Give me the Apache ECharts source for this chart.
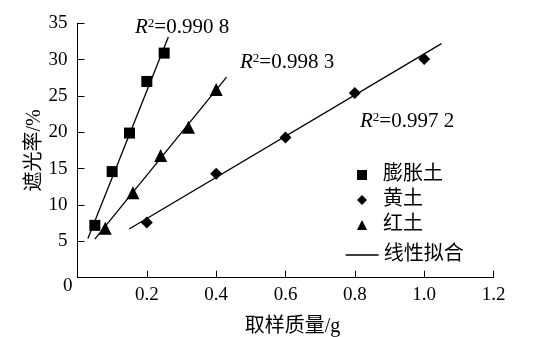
<!DOCTYPE html>
<html><head><meta charset="utf-8">
<script src="https://cdn.jsdelivr.net/npm/echarts@6/dist/echarts.min.js"></script>
<style>html,body{margin:0;padding:0;background:#fff}#c{width:547px;height:337px}</style>
</head><body><div id="c"></div>
<script>
const FONT = "'Liberation Serif','Noto Sans CJK SC',serif";
// 膨胀土
const swellX = [0.05, 0.10, 0.15, 0.20, 0.25];
const swellY = [7.2, 14.6, 19.9, 27.0, 30.9];
// 黄土
const loessX = [0.2, 0.4, 0.6, 0.8, 1.0];
const loessY = [7.6, 14.3, 19.3, 25.4, 30.1];
// 红土
const redX = [0.08, 0.16, 0.24, 0.32, 0.40];
const redY = [6.8, 11.7, 16.8, 20.7, 25.9];
// fitted line endpoints
const swellFitX = [0.03, 0.262];
const swellFitY = [5.4, 33.1];
const redFitX = [0.05, 0.43];
const redFitY = [5.3, 27.6];
const loessFitX = [0.149, 1.05];
const loessFitY = [6.7, 32.2];
const r2Labels = ['0.990 8', '0.998 3', '0.997 2'];
const seriesNames = ['膨胀土', '黄土', '红土', '线性拟合'];
const xTicks = [0, 0.2, 0.4, 0.6, 0.8, 1.0, 1.2];
const yTicks = [0, 5, 10, 15, 20, 25, 30, 35];

const zip = (a, b) => a.map((v, i) => [v, b[i]]);
const chart = echarts.init(document.getElementById('c'));
const lineStyle = { color: '#000', width: 1.3 };
const r2Text = (v) => '{r|R}{s|2}{t|=' + v + '}';
const r2Rich = {
  r: { fontFamily: FONT, fontStyle: 'italic', fontSize: 21, fill: '#000', color: '#000' },
  s: { fontFamily: FONT, fontSize: 13, verticalAlign: 'top', fill: '#000', color: '#000', padding: [0, 0, 8, 0] },
  t: { fontFamily: FONT, fontSize: 21, fill: '#000', color: '#000' }
};
const mk = { color: '#000', opacity: 1 };
chart.setOption({
  animation: false,
  backgroundColor: '#fff',
  grid: { left: 77.5, right: 53.5, top: 23.3, bottom: 59.3, outerBoundsMode: 'none', containLabel: false },
  xAxis: {
    type: 'value', min: xTicks[0], max: xTicks[xTicks.length - 1], interval: 0.2,
    name: '取样质量/g', nameLocation: 'middle', nameGap: 39, nameMoveOverlap: false,
    nameTextStyle: { fontFamily: FONT, fontSize: 20, color: '#000', padding: [0, 0, 0, 14] },
    axisLine: { lineStyle: { color: '#000', width: 1 } },
    axisTick: { inside: true, length: 7, lineStyle: { color: '#000' } },
    axisLabel: { margin: 8, fontFamily: FONT, fontSize: 19, color: '#000',
      formatter: v => v === 0 ? '' : v.toFixed(1) },
    splitLine: { show: false }
  },
  yAxis: {
    type: 'value', min: yTicks[0], max: yTicks[yTicks.length - 1], interval: 5,
    name: '遮光率/%', nameLocation: 'middle', nameGap: 33, nameMoveOverlap: false,
    nameTextStyle: { fontFamily: FONT, fontSize: 20, color: '#000' },
    axisLine: { show: true, lineStyle: { color: '#000', width: 1 } },
    axisTick: { show: true, inside: true, length: 7, lineStyle: { color: '#000' } },
    axisLabel: { margin: 10, fontFamily: FONT, fontSize: 19, color: '#000',
      formatter: v => v === 0 ? '' : String(v) },
    splitLine: { show: false }
  },
  legend: [
    { data: seriesNames.slice(0, 3), orient: 'vertical', left: 352, top: 160,
      itemWidth: 10, itemHeight: 10, itemGap: 5,
      textStyle: { fontFamily: FONT, fontSize: 20, color: '#000', padding: [0, 0, 0, 11] } },
    { data: [seriesNames[3]], orient: 'vertical', left: 340, top: 240,
      itemWidth: 33, itemHeight: 14,
      itemStyle: { opacity: 0 }, lineStyle: { width: 1.3, color: '#000' },
      textStyle: { fontFamily: FONT, fontSize: 20, color: '#000' } }
  ],
  graphic: [
    { type: 'text', left: 63, top: 277, style: { text: '0', font: '19px ' + FONT, fill: '#000' } },
    { type: 'text', left: 135, top: 17, style: { text: r2Text(r2Labels[0]), rich: r2Rich } },
    { type: 'text', left: 240, top: 52, style: { text: r2Text(r2Labels[1]), rich: r2Rich } },
    { type: 'text', left: 360, top: 111, style: { text: r2Text(r2Labels[2]), rich: r2Rich } }
  ],
  series: [
    { name: seriesNames[0], type: 'scatter', symbol: 'rect', symbolSize: 11,
      itemStyle: mk, data: zip(swellX, swellY), z: 3 },
    { name: seriesNames[1], type: 'scatter', symbol: 'diamond', symbolSize: 12,
      itemStyle: mk, data: zip(loessX, loessY), z: 3 },
    { name: seriesNames[2], type: 'scatter', symbol: 'triangle', symbolSize: 13,
      itemStyle: mk, data: zip(redX, redY), z: 3 },
    { name: seriesNames[3], type: 'line', symbol: 'none', lineStyle, itemStyle: mk,
      data: zip(swellFitX, swellFitY) },
    { name: seriesNames[3], type: 'line', symbol: 'none', lineStyle, itemStyle: mk,
      data: zip(redFitX, redFitY) },
    { name: seriesNames[3], type: 'line', symbol: 'none', lineStyle, itemStyle: mk,
      data: zip(loessFitX, loessFitY) }
  ]
});
</script></body></html>
